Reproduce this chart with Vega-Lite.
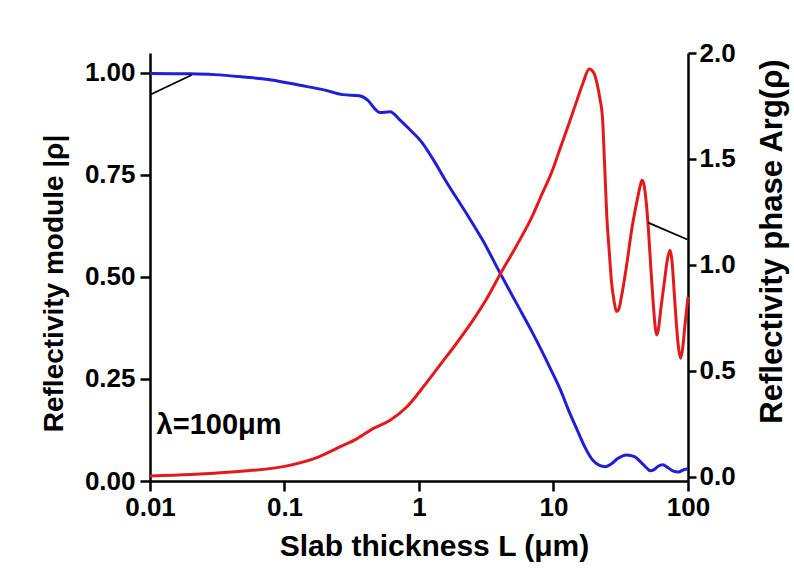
{
  "$schema": "https://vega.github.io/schema/vega-lite/v6.json",
  "width": 538,
  "height": 428,
  "autosize": {"type": "none"},
  "padding": {"left": 150, "top": 53, "right": 106, "bottom": 93},
  "background": "white",
  "config": {
    "view": {"stroke": null},
    "font": "Liberation Sans",
    "axis": {
      "grid": false,
      "domainColor": "black",
      "domainWidth": 2.5,
      "tickColor": "black",
      "labelColor": "black",
      "labelFont": "Liberation Sans",
      "labelFontSize": 26,
      "labelFontWeight": "bold",
      "titleColor": "black",
      "titleFont": "Liberation Sans",
      "titleFontSize": 28,
      "titleFontWeight": "bold",
      "labelOverlap": false,
      "labelFlush": false
    }
  },
  "datasets": {
    "module": [
      {"L": 0.01, "v": 0.999}, {"L": 0.02, "v": 0.998}, {"L": 0.03, "v": 0.996}, {"L": 0.05, "v": 0.99},
      {"L": 0.08, "v": 0.983}, {"L": 0.13, "v": 0.97}, {"L": 0.2, "v": 0.958}, {"L": 0.27, "v": 0.947},
      {"L": 0.36, "v": 0.944}, {"L": 0.42, "v": 0.932}, {"L": 0.47, "v": 0.912}, {"L": 0.51, "v": 0.903},
      {"L": 0.61, "v": 0.905}, {"L": 0.72, "v": 0.885}, {"L": 0.85, "v": 0.862}, {"L": 1.05, "v": 0.83},
      {"L": 1.28, "v": 0.787}, {"L": 1.6, "v": 0.733}, {"L": 2.26, "v": 0.655}, {"L": 3, "v": 0.588},
      {"L": 4, "v": 0.51}, {"L": 5.3, "v": 0.436}, {"L": 7.07, "v": 0.36}, {"L": 9.5, "v": 0.275},
      {"L": 11.2, "v": 0.225}, {"L": 13, "v": 0.172}, {"L": 15, "v": 0.125},
      {"L": 17, "v": 0.085}, {"L": 19.7, "v": 0.05}, {"L": 22, "v": 0.038}, {"L": 24.2, "v": 0.035},
      {"L": 27, "v": 0.042}, {"L": 30, "v": 0.055}, {"L": 35, "v": 0.064}, {"L": 40, "v": 0.06},
      {"L": 45, "v": 0.045}, {"L": 50, "v": 0.03}, {"L": 52, "v": 0.025}, {"L": 56, "v": 0.028},
      {"L": 60, "v": 0.036}, {"L": 65, "v": 0.04}, {"L": 70, "v": 0.034}, {"L": 77, "v": 0.025},
      {"L": 85, "v": 0.022}, {"L": 92, "v": 0.027}, {"L": 100, "v": 0.03}
    ],
    "phase": [
      {"L": 0.01, "v": 0.005}, {"L": 0.02, "v": 0.012}, {"L": 0.03, "v": 0.018}, {"L": 0.05, "v": 0.028},
      {"L": 0.1, "v": 0.05}, {"L": 0.18, "v": 0.095}, {"L": 0.26, "v": 0.143}, {"L": 0.345, "v": 0.18},
      {"L": 0.455, "v": 0.228}, {"L": 0.61, "v": 0.268}, {"L": 0.81, "v": 0.33}, {"L": 1.08, "v": 0.426},
      {"L": 1.42, "v": 0.525}, {"L": 1.91, "v": 0.632}, {"L": 2.5, "v": 0.736}, {"L": 3.17, "v": 0.838},
      {"L": 4, "v": 0.955}, {"L": 5.3, "v": 1.09}, {"L": 7.07, "v": 1.24}, {"L": 7.9, "v": 1.31},
      {"L": 10, "v": 1.46}, {"L": 11.2, "v": 1.55},
      {"L": 13, "v": 1.665}, {"L": 15, "v": 1.78}, {"L": 16.6, "v": 1.86}, {"L": 18.4, "v": 1.925},
      {"L": 20, "v": 1.905}, {"L": 21, "v": 1.86}, {"L": 22.2, "v": 1.78}, {"L": 23.1, "v": 1.7},
      {"L": 24, "v": 1.47}, {"L": 24.9, "v": 1.23}, {"L": 26, "v": 1.06}, {"L": 27, "v": 0.92},
      {"L": 28.2, "v": 0.83}, {"L": 29.4, "v": 0.78}, {"L": 30.5, "v": 0.79}, {"L": 32, "v": 0.85},
      {"L": 35, "v": 1.0}, {"L": 38, "v": 1.16}, {"L": 42, "v": 1.31}, {"L": 44, "v": 1.37},
      {"L": 45.5, "v": 1.4}, {"L": 47, "v": 1.38}, {"L": 49, "v": 1.29}, {"L": 51, "v": 1.15},
      {"L": 53, "v": 0.98}, {"L": 55, "v": 0.83}, {"L": 57, "v": 0.71}, {"L": 58.5, "v": 0.67},
      {"L": 60, "v": 0.69}, {"L": 63, "v": 0.8}, {"L": 67, "v": 0.93}, {"L": 70, "v": 1.02},
      {"L": 73.5, "v": 1.07}, {"L": 76, "v": 1.02}, {"L": 79, "v": 0.87}, {"L": 82, "v": 0.72},
      {"L": 85, "v": 0.61}, {"L": 88, "v": 0.56}, {"L": 91, "v": 0.6}, {"L": 95, "v": 0.72},
      {"L": 100, "v": 0.85}
    ],
    "majorTicks": [{"L": 0.01}, {"L": 0.1}, {"L": 1}, {"L": 10}, {"L": 100}],
    "minorTicks": [
      {"L": 0.02}, {"L": 0.03}, {"L": 0.04}, {"L": 0.05}, {"L": 0.06}, {"L": 0.07}, {"L": 0.08}, {"L": 0.09},
      {"L": 0.2}, {"L": 0.3}, {"L": 0.4}, {"L": 0.5}, {"L": 0.6}, {"L": 0.7}, {"L": 0.8}, {"L": 0.9},
      {"L": 2}, {"L": 3}, {"L": 4}, {"L": 5}, {"L": 6}, {"L": 7}, {"L": 8}, {"L": 9},
      {"L": 20}, {"L": 30}, {"L": 40}, {"L": 50}, {"L": 60}, {"L": 70}, {"L": 80}, {"L": 90}
    ],
    "arrowModule": [{"L": 0.0102, "v": 0.948}, {"L": 0.0204, "v": 0.995}],
    "arrowPhase": [{"L": 50.5, "v": 1.2}, {"L": 99, "v": 1.12}],
    "label": [{"L": 0.0112, "v": 0.137, "text": "λ=100μm"}]
  },
  "layer": [
    {
      "encoding": {
        "x": {
          "field": "L", "type": "quantitative",
          "scale": {"type": "log", "domain": [0.01, 100], "nice": false},
          "axis": {
            "orient": "bottom",
            "values": [0.01, 0.1, 1, 10, 100],
            "labelExpr": "datum.value + ''",
            "tickWidth": 2.5,
            "tickSize": 10,
            "labelPadding": 3,
            "title": "Slab thickness L (μm)",
            "titleFontSize": 30,
            "titleX": 284,
            "titleY": 74,
            "titleBaseline": "alphabetic"
          }
        },
        "y": {
          "field": "v", "type": "quantitative",
          "scale": {"domain": [0, 1.049], "nice": false, "zero": false},
          "axis": {
            "orient": "left",
            "values": [0, 0.25, 0.5, 0.75, 1],
            "format": ".2f",
            "tickWidth": 2.5,
            "tickSize": 10,
            "labelPadding": 5,
            "title": "Reflectivity module |ρ|",
            "titleAngle": -90,
            "titleX": -88,
            "titleY": 230,
            "titleBaseline": "alphabetic"
          }
        }
      },
      "layer": [
        {"data": {"name": "module"}, "mark": {"type": "line", "color": "#1f1fd6", "strokeWidth": 3, "interpolate": "monotone"}},
        {"data": {"name": "arrowModule"}, "mark": {"type": "line", "color": "black", "strokeWidth": 1.8}},
        {"data": {"name": "majorTicks"}, "mark": {"type": "rule", "color": "black", "strokeWidth": 2.5, "clip": false}, "encoding": {"y": {"datum": 0.012}, "y2": {"datum": -0.027}}},
        {"data": {"name": "minorTicks"}, "mark": {"type": "rule", "color": "black", "strokeWidth": 2, "clip": false}, "encoding": {"y": {"datum": 0.01}, "y2": {"datum": -0.015}}},
        {"data": {"name": "label"}, "mark": {"type": "text", "align": "left", "baseline": "middle", "fontSize": 29, "fontWeight": "bold", "font": "Liberation Sans", "color": "black"}, "encoding": {"text": {"field": "text"}}}
      ]
    },
    {
      "encoding": {
        "x": {
          "field": "L", "type": "quantitative",
          "scale": {"type": "log", "domain": [0.01, 100], "nice": false}
        },
        "y": {
          "field": "v", "type": "quantitative",
          "scale": {"domain": [-0.019, 2.0], "nice": false, "zero": false},
          "axis": {
            "orient": "right",
            "values": [0, 0.5, 1, 1.5, 2],
            "format": ".1f",
            "tickWidth": 2.5,
            "tickSize": 8,
            "labelPadding": 3,
            "title": "Reflectivity phase Arg(ρ)",
            "titleFontSize": 31,
            "titleAngle": -90,
            "titleX": 93,
            "titleY": 188,
            "titleBaseline": "alphabetic"
          }
        }
      },
      "layer": [
        {"data": {"name": "phase"}, "mark": {"type": "line", "color": "#e31a1c", "strokeWidth": 3, "interpolate": "monotone"}},
        {"data": {"name": "arrowPhase"}, "mark": {"type": "line", "color": "black", "strokeWidth": 1.8}}
      ]
    }
  ],
  "resolve": {"scale": {"y": "independent"}}
}
